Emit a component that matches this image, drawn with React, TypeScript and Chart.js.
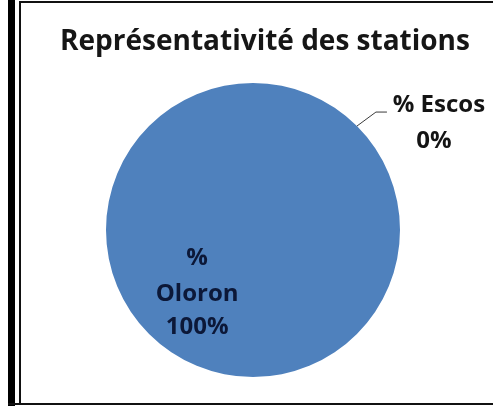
import React, { useEffect, useRef } from "react";
import { Chart, registerables } from "chart.js";

Chart.register(...registerables);

const TITLE = "Représentativité des stations";
const categories = ["% Oloron", "% Escos"];
const values = [100, 0];
const valueLabels = ["100%", "0%"];
const sliceColors = ["#4f81bd", "#4f81bd"];

const FONT = "'Open Sans'";

const labelPlugin = {
  id: "excelLabels",
  afterDraw(chart: any) {
    const ctx = chart.ctx;
    const meta = chart.getDatasetMeta(0);
    const big: any = meta.data[0];
    const small: any = meta.data[1];
    if (!big || !small) return;
    const cx = big.x;
    const cy = big.y;
    const r = big.outerRadius;
    ctx.save();
    // title
    ctx.fillStyle = "#161616";
    ctx.font = `bold 28px ${FONT}`;
    ctx.textAlign = "center";
    ctx.textBaseline = "middle";
    ctx.fillText(TITLE, cx + 12, cy - 188);

    // Oloron label (inside)
    ctx.fillStyle = "#0c1838";
    ctx.font = `bold 24px ${FONT}`;
    const ox = cx - 0.38 * r;
    const oy = cy + 0.435 * r;
    ctx.fillText("%", ox, oy - 36);
    ctx.fillText(categories[0].replace("% ", ""), ox, oy);
    ctx.fillText(valueLabels[0], ox, oy + 33);

    // Escos label (outside, with leader line)
    const a = small.startAngle;
    const ax = cx + r * Math.cos(a);
    const ay = cy + r * Math.sin(a);
    ctx.strokeStyle = "#3a3a3a";
    ctx.lineWidth = 1;
    ctx.beginPath();
    ctx.moveTo(ax, ay);
    ctx.lineTo(ax + 19, ay - 14);
    ctx.lineTo(ax + 30, ay - 14);
    ctx.stroke();
    ctx.fillStyle = "#141414";
    ctx.font = `bold 24px ${FONT}`;
    ctx.fillText(categories[1], ax + 82, ay - 21);
    ctx.fillText(valueLabels[1], ax + 77, ay + 15);
    ctx.restore();
  },
};

export default function App() {
  const ref = useRef<HTMLCanvasElement>(null);
  useEffect(() => {
    if (!ref.current) return;
    const chart = new Chart(ref.current, {
      type: "pie",
      data: {
        labels: categories,
        datasets: [
          {
            data: values,
            backgroundColor: sliceColors,
            borderWidth: 0,
          },
        ],
      },
      options: {
        animation: false,
        responsive: false,
        rotation: 45,
        layout: { padding: { top: 83, bottom: 29, left: 13, right: 0 } },
        plugins: {
          legend: { display: false },
          title: { display: false },
          tooltip: { enabled: false },
        },
      },
      plugins: [labelPlugin],
    });
    return () => chart.destroy();
  }, []);

  return (
    <div
      style={{
        position: "fixed",
        left: 0,
        top: 0,
        width: 493,
        height: 406,
        background: "#fff",
        overflow: "hidden",
      }}
    >
      <canvas ref={ref} width={493} height={406} style={{ position: "absolute", left: 0, top: 0 }} />
      <div style={{ position: "absolute", left: 8, top: 0, width: 7, height: 406, background: "#000" }} />
      <div style={{ position: "absolute", left: 19, top: 1, width: 2, height: 404, background: "#111" }} />
      <div style={{ position: "absolute", left: 19, top: 1, width: 474, height: 2, background: "#111" }} />
      <div style={{ position: "absolute", left: 8, top: 403, width: 485, height: 2, background: "#111" }} />
    </div>
  );
}
